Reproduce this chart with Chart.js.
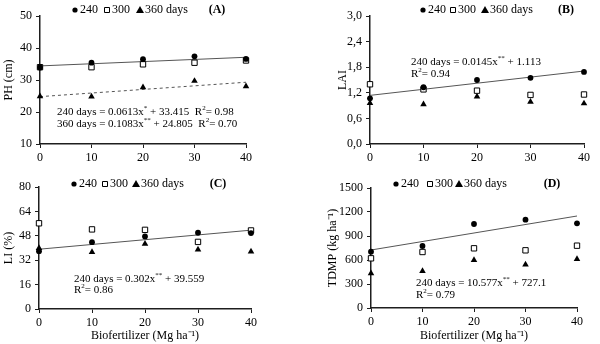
<!DOCTYPE html>
<html><head><meta charset="utf-8">
<script src="https://cdn.jsdelivr.net/npm/chart.js@4/dist/chart.umd.min.js"></script>
<style>
html,body{margin:0;padding:0;background:#fff;width:600px;height:344px;overflow:hidden}
.p{position:absolute;width:300px;height:172px}
</style></head><body>
<div class="p" style="left:0;top:0"><canvas id="cA" width="300" height="172"></canvas></div>
<div class="p" style="left:300px;top:0"><canvas id="cB" width="300" height="172"></canvas></div>
<div class="p" style="left:0;top:172px"><canvas id="cC" width="300" height="172"></canvas></div>
<div class="p" style="left:300px;top:172px"><canvas id="cD" width="300" height="172"></canvas></div>
<script>
// ---- data ----
const doses = [0, 10, 20, 30, 40];
const trendX = [0, 40];
const seriesLabels = ['240', '300', '360 days'];

const ph240 = [33.9, 35.4, 36.5, 37.4, 36.6];
const ph300 = [34.0, 34.0, 34.9, 35.4, 36.1];
const ph360 = [24.9, 24.8, 27.7, 29.7, 28.0];
const phTrend240 = [34.4, 37.1];
const phTrend360 = [24.8, 29.3];

const lai240 = [1.07, 1.33, 1.50, 1.55, 1.69];
const lai300 = [1.40, 1.28, 1.25, 1.15, 1.16];
const lai360 = [0.96, 0.93, 1.11, 0.99, 0.95];
const laiTrend240 = [1.14, 1.71];

const li240 = [37.9, 43.8, 47.6, 50.0, 49.8];
const li300 = [56.2, 52.2, 51.9, 44.0, 51.5];
const li360 = [39.9, 37.3, 42.7, 39.0, 37.7];
const liTrend240 = [39.2, 51.7];

const tdmp240 = [704, 775, 1050, 1104, 1058];
const tdmp300 = [621, 700, 746, 721, 779];
const tdmp360 = [433, 462, 600, 542, 612];
const tdmpTrend240 = [725, 1150];

const FONT = '"Liberation Serif", "Times New Roman", serif';
const AX = '#1e1e1e';

function pts(arr){ return arr.map((v,i)=>({x:doses[i], y:v})); }
function tpts(arr){ return arr.map((v,i)=>({x:trendX[i], y:v})); }

function drawMarker(ctx, style, x, y){
  ctx.save();
  ctx.fillStyle = '#000'; ctx.strokeStyle = '#000'; ctx.lineWidth = 1;
  ctx.beginPath();
  if (style === 'circle') { ctx.arc(x, y, 2.6, 0, Math.PI*2); ctx.fill(); }
  else if (style === 'rect') { ctx.fillStyle='#fff'; ctx.rect(x-2.5, y-2.5, 5, 5); ctx.fill(); ctx.stroke(); }
  else { ctx.moveTo(x, y-4); ctx.lineTo(x+4, y+3); ctx.lineTo(x-4, y+3); ctx.closePath(); ctx.fill(); }
  ctx.restore();
}

function drawRich(ctx, segs, x, y, size){
  let cx = x;
  segs.forEach(s=>{
    if (s.sup){
      ctx.font = Math.round(size*0.65) + 'px ' + FONT;
      ctx.fillText(s.t, cx, y - size*0.35);
    } else {
      ctx.font = size + 'px ' + FONT;
      ctx.fillText(s.t, cx, y);
    }
    cx += ctx.measureText(s.t).width;
  });
}

const overlay = {
  id: 'overlay',
  afterDraw(chart, args, o){
    const ctx = chart.ctx;
    ctx.save();
    ctx.fillStyle = '#000';
    ctx.textBaseline = 'middle';
    ctx.textAlign = 'left';
    const styles = ['circle','rect','triangle'];
    o.legendX.forEach((lx,i)=>{
      drawMarker(ctx, styles[i], lx, o.legendY);
      ctx.font = '12px ' + FONT;
      ctx.fillStyle = '#000';
      ctx.fillText(seriesLabels[i], lx + 5, o.legendY);
    });
    ctx.font = 'bold 12px ' + FONT;
    ctx.textAlign = 'center';
    ctx.fillText(o.tag, o.tagX, o.legendY);
    ctx.textAlign = 'left';
    o.eq.forEach((line, i)=>{
      drawRich(ctx, line, o.eqX, o.eqY[i], 11);
    });
    ctx.restore();
  }
};

function makeChart(id, cfg){
  const datasets = [
    {type:'scatter', data:pts(cfg.s240), pointStyle:'circle', pointRadius:2.9, backgroundColor:'#000', borderColor:'#000', borderWidth:0, order:1, clip:false},
    {type:'scatter', data:pts(cfg.s300), pointStyle:'rect', pointRadius:3.8, backgroundColor:'#fff', borderColor:'#000', borderWidth:1, order:2, clip:false},
    {type:'scatter', data:pts(cfg.s360), pointStyle:'triangle', pointRadius:3.8, backgroundColor:'#000', borderColor:'#000', borderWidth:0, order:3, clip:false},
  ];
  cfg.trends.forEach(t=>{
    datasets.push({type:'line', data:tpts(t.v), borderColor:'#555', borderWidth:1, borderDash:t.dash||[], pointRadius:0, fill:false, order:4, clip:false});
  });
  return new Chart(document.getElementById(id), {
    type:'scatter',
    data:{datasets},
    options:{
      responsive:false, animation:false, devicePixelRatio:1,
      layout:{padding:cfg.pad},
      plugins:{legend:{display:false}, tooltip:{enabled:false}, overlay:cfg.overlay},
      scales:{
        x:{type:'linear', min:0, max:40,
          ticks:{stepSize:10, color:'#000', font:{family:FONT, size:12}, padding:3, maxRotation:0},
          grid:{display:true, drawOnChartArea:false, drawTicks:true, tickLength:4, tickColor:AX},
          border:{display:true, color:AX, width:1.5},
          title:{display:!!cfg.xTitle, text:cfg.xTitle||'', color:'#000', font:{family:FONT, size:12}, padding:{top:0,bottom:1}},
          afterFit(s){ s.height = cfg.xH; }
        },
        y:{type:'linear', min:cfg.yMin, max:cfg.yMax,
          ticks:{stepSize:cfg.yStep, color:'#000', font:{family:FONT, size:12}, padding:4,
            callback:cfg.yFmt || (v=>v)},
          grid:{display:true, drawOnChartArea:false, drawTicks:true, tickLength:4, tickColor:AX},
          border:{display:true, color:AX, width:1.5},
          title:{display:true, text:cfg.yTitle, color:'#000', font:{family:FONT, size:12}, padding:{top:2,bottom:2}},
          afterFit(s){ s.width = cfg.yW; }
        }
      }
    },
    plugins:[overlay]
  });
}

makeChart('cA', {
  s240:ph240, s300:ph300, s360:ph360,
  trends:[{v:phTrend240},{v:phTrend360, dash:[3,3]}],
  pad:{left:0, right:54, top:16, bottom:0}, xH:28, yW:40,
  yMin:10, yMax:50, yStep:10, yTitle:'PH (cm)',
  overlay:{legendX:[75,107,140], legendY:10, tag:'(A)', tagX:217, eqX:57, eqY:[112,124],
    eq:[
      [{t:'240 days = 0.0613x'},{t:'*',sup:true},{t:' + 33.415  R'},{t:'2',sup:true},{t:'= 0.98'}],
      [{t:'360 days = 0.1083x'},{t:'**',sup:true},{t:' + 24.805  R'},{t:'2',sup:true},{t:'= 0.70'}]
    ]}
});

makeChart('cB', {
  s240:lai240, s300:lai300, s360:lai360,
  trends:[{v:laiTrend240}],
  pad:{left:34, right:16, top:16, bottom:0}, xH:28, yW:36,
  yMin:0, yMax:3, yStep:0.6, yTitle:'LAI',
  yFmt:v=>Number(v).toFixed(1).replace('.', ','),
  overlay:{legendX:[123,153,185], legendY:10, tag:'(B)', tagX:266, eqX:111, eqY:[62,74],
    eq:[
      [{t:'240 days = 0.0145x'},{t:'**',sup:true},{t:' + 1.113'}],
      [{t:'R'},{t:'2',sup:true},{t:'= 0.94'}]
    ]}
});

makeChart('cC', {
  s240:li240, s300:li300, s360:li360,
  trends:[{v:liTrend240}],
  pad:{left:0, right:49, top:15, bottom:0}, xH:35, yW:39,
  yMin:0, yMax:80, yStep:16, yTitle:'LI (%)', xTitle:'Biofertilizer (Mg ha\u207B\u00B9)',
  overlay:{legendX:[74,105,136], legendY:12, tag:'(C)', tagX:218, eqX:74, eqY:[107,118],
    eq:[
      [{t:'240 days = 0.302x'},{t:'**',sup:true},{t:' + 39.559'}],
      [{t:'R'},{t:'2',sup:true},{t:'= 0.86'}]
    ]}
});

makeChart('cD', {
  s240:tdmp240, s300:tdmp300, s360:tdmp360,
  trends:[{v:tdmpTrend240}],
  pad:{left:24, right:23, top:16, bottom:0}, xH:36, yW:47,
  yMin:0, yMax:1500, yStep:300, yTitle:'TDMP (kg ha\u207B\u00B9)', xTitle:'Biofertilizer (Mg ha\u207B\u00B9)',
  overlay:{legendX:[96,130,159], legendY:12, tag:'(D)', tagX:252, eqX:116, eqY:[111,123],
    eq:[
      [{t:'240 days = 10.577x'},{t:'**',sup:true},{t:' + 727.1'}],
      [{t:'R'},{t:'2',sup:true},{t:'= 0.79'}]
    ]}
});
</script>
</body></html>
